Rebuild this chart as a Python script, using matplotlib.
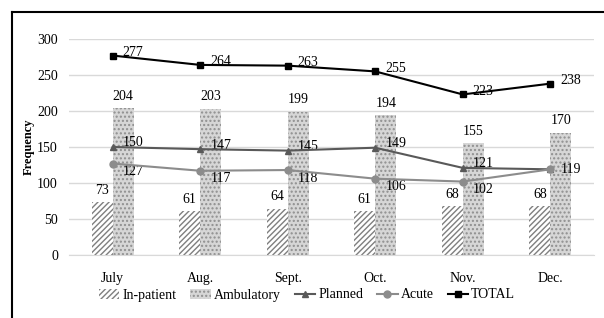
import matplotlib.pyplot as plt
from matplotlib.lines import Line2D
import numpy as np

months = ['July', 'Aug.', 'Sept.', 'Oct.', 'Nov.', 'Dec.']
inpatient = [73, 61, 64, 61, 68, 68]
ambulatory = [204, 203, 199, 194, 155, 170]
planned = [150, 147, 145, 149, 121, 119]
acute = [127, 117, 118, 106, 102, 119]
total = [277, 264, 263, 255, 223, 238]

plt.rcParams['font.family'] = ['Liberation Serif', 'DejaVu Serif']
plt.rcParams['font.size'] = 10
plt.rcParams['hatch.linewidth'] = 1.0

W, H = 604, 318
fig = plt.figure(figsize=(W / 100, H / 100), dpi=100)
ax = fig.add_axes([69 / W, 1 - 255 / H, (594 - 69) / W, (255 - 39) / H])

x = np.arange(len(months))
bw = 0.24

b1 = ax.bar(x - bw / 2, inpatient, bw, color='white', edgecolor='#7f7f7f',
            hatch='//////', linewidth=0, label='In-patient', zorder=2)
b2 = ax.bar(x + bw / 2, ambulatory, bw, color='#d6d6d6', edgecolor='#8f8f8f',
            hatch='....', linewidth=0, label='Ambulatory', zorder=2)

l1, = ax.plot(x, planned, color='#595959', marker='^', markersize=5, lw=1.5,
              label='Planned', zorder=4)
l2, = ax.plot(x, acute, color='#8c8c8c', marker='o', markersize=5, lw=1.5,
              label='Acute', zorder=4)
l3, = ax.plot(x, total, color='black', marker='s', markersize=5, lw=1.5,
              label='TOTAL', zorder=5)

for xi, v in zip(x, inpatient):
    ax.annotate(str(v), (xi - bw / 2, v), xytext=(0, 12), textcoords='offset pixels',
                ha='center', va='center')
for xi, v in zip(x, ambulatory):
    ax.annotate(str(v), (xi + bw / 2, v), xytext=(0, 12), textcoords='offset pixels',
                ha='center', va='center')
for xi, v in zip(x, total):
    ax.annotate(str(v), (xi, v), xytext=(10, 3), textcoords='offset pixels',
                ha='left', va='center')
for xi, v in zip(x, planned):
    dy = 4 if xi < len(x) - 1 else 0
    ax.annotate(str(v), (xi, v), xytext=(10, dy), textcoords='offset pixels',
                ha='left', va='center')
for xi, v in zip(x[:-1], acute[:-1]):
    ax.annotate(str(v), (xi, v), xytext=(10, -8), textcoords='offset pixels',
                ha='left', va='center')

ax.set_xlim(-0.5, len(months) - 0.5)
ax.set_ylim(0, 300)
ax.set_yticks(range(0, 301, 50))
ax.set_xticks(x)
ax.set_xticklabels(months)
ax.tick_params(length=0, pad=12)
ax.tick_params(axis='y', pad=8)
ax.grid(axis='y', color='#d9d9d9', lw=1, zorder=0)
ax.set_axisbelow(True)
for s in ['top', 'right', 'left']:
    ax.spines[s].set_visible(False)
ax.spines['bottom'].set_color('#d9d9d9')
ax.set_ylabel('Frequency', fontweight='bold', fontsize=9)
ax.yaxis.set_label_coords(-0.065, 0.5)

fig.legend([b1, b2, l1, l2, l3], ['In-patient', 'Ambulatory', 'Planned', 'Acute', 'TOTAL'],
           loc='center', bbox_to_anchor=(0.508, 1 - 295 / H), ncol=5, frameon=False,
           handlelength=1.5, handletextpad=0.2, columnspacing=1.0)

fig.add_artist(Line2D([12 / W, 12 / W], [0, 1 - 12 / H], color='black', lw=1.5,
                      transform=fig.transFigure))
fig.add_artist(Line2D([12 / W, 1], [1 - 12 / H, 1 - 12 / H], color='black', lw=1.5,
                      transform=fig.transFigure))

fig.savefig('out.png', dpi=100)
